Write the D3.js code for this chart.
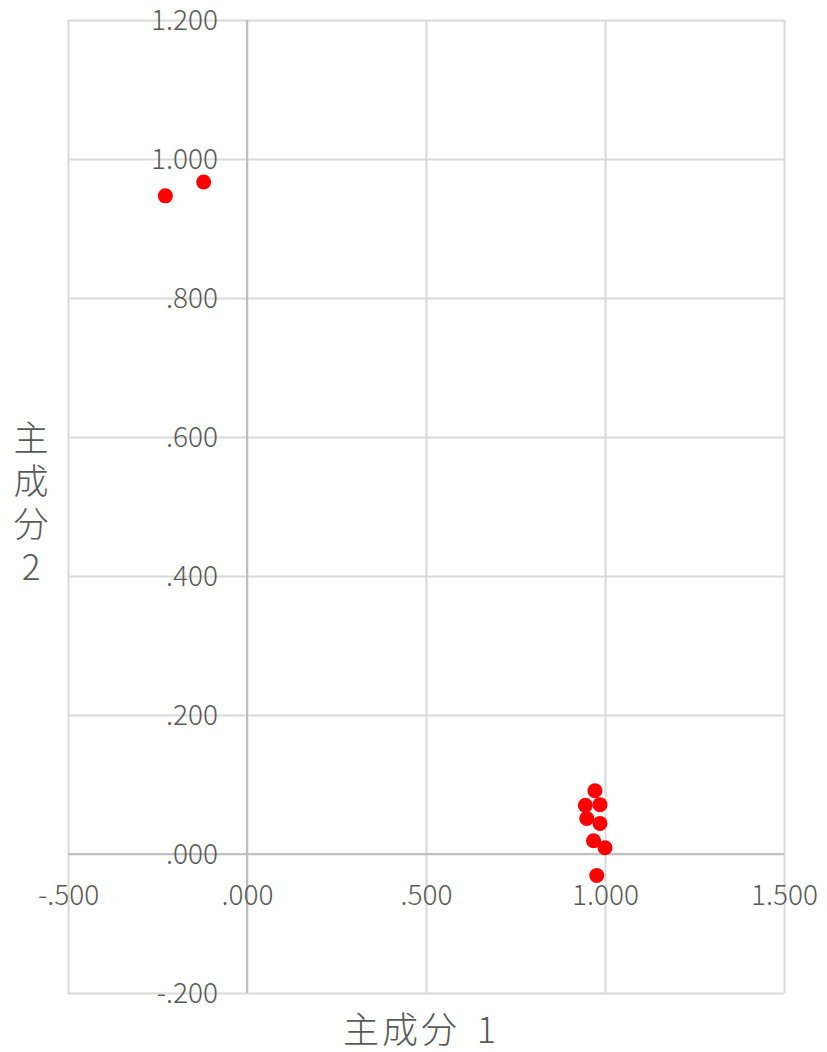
<!DOCTYPE html>
<html>
<head>
<meta charset="utf-8">
<script src="https://cdn.jsdelivr.net/npm/d3@7"></script>
<style>
  body { margin: 0; background: #fff; }
  text { font-family: "Noto Sans CJK JP", "Noto Sans", sans-serif; font-weight: 300; fill: #595959; }
</style>
</head>
<body>
<script>
// component loadings
const pc1 = [-0.228, -0.121, 0.972, 0.945, 0.986, 0.949, 0.986, 0.968, 1.000, 0.977];
const pc2 = [0.947, 0.967, 0.091, 0.070, 0.071, 0.051, 0.044, 0.019, 0.009, -0.031];

const xTicks = [-0.5, 0, 0.5, 1.0, 1.5];
const yTicks = [-0.2, 0, 0.2, 0.4, 0.6, 0.8, 1.0, 1.2];
const xTitle = "主成分 1";
const yTitle = "主成分2";

const width = 827, height = 1052;
const margin = { top: 20, right: 43, bottom: 59, left: 68 };

// Excel style labels: plain hyphen, no leading zero
const locale = d3.formatLocale({ decimal: ".", thousands: ",", grouping: [3], currency: ["", ""], minus: "-" });
const fmt = v => locale.format(".3f")(v).replace(/^(-?)0\./, "$1.");

const svg = d3.select("body").append("svg")
  .attr("width", width)
  .attr("height", height);

const x = d3.scaleLinear()
  .domain([-0.5, 1.5])
  .range([margin.left, width - margin.right]);

const y = d3.scaleLinear()
  .domain([-0.2, 1.2])
  .range([height - margin.bottom, margin.top]);

// gridlines
svg.append("g")
  .attr("transform", `translate(0,${y(-0.2)})`)
  .call(d3.axisBottom(x).tickValues(xTicks).tickSize(-(y(-0.2) - y(1.2))).tickFormat(""))
  .call(g => g.select(".domain").remove())
  .call(g => g.selectAll("line").attr("stroke", "#d9d9d9").attr("stroke-width", 2));

svg.append("g")
  .attr("transform", `translate(${x(-0.5)},0)`)
  .call(d3.axisLeft(y).tickValues(yTicks).tickSize(-(x(1.5) - x(-0.5))).tickFormat(""))
  .call(g => g.select(".domain").remove())
  .call(g => g.selectAll("line").attr("stroke", "#d9d9d9").attr("stroke-width", 2));

// axis lines crossing at zero
svg.append("line")
  .attr("x1", x(-0.5)).attr("x2", x(1.5))
  .attr("y1", y(0)).attr("y2", y(0))
  .attr("stroke", "#bfbfbf").attr("stroke-width", 2);
svg.append("line")
  .attr("x1", x(0)).attr("x2", x(0))
  .attr("y1", y(-0.2)).attr("y2", y(1.2))
  .attr("stroke", "#bfbfbf").attr("stroke-width", 2);

// tick labels
svg.append("g")
  .attr("transform", `translate(0,${y(0)})`)
  .call(d3.axisBottom(x).tickValues(xTicks).tickSize(0).tickFormat(fmt))
  .call(g => g.select(".domain").remove())
  .call(g => g.selectAll("text")
    .attr("y", 41).attr("dy", "0.35em")
    .style("font-size", "28px").attr("fill", "#595959"));

svg.append("g")
  .attr("transform", `translate(${x(0)},0)`)
  .call(d3.axisLeft(y).tickValues(yTicks).tickSize(0).tickFormat(fmt))
  .call(g => g.select(".domain").remove())
  .call(g => g.selectAll("text")
    .attr("x", -29).attr("dy", "0.35em")
    .style("font-size", "28px").attr("fill", "#595959"));

// points
svg.append("g")
  .selectAll("circle")
  .data(pc1.map((v, i) => [v, pc2[i]]))
  .join("circle")
  .attr("cx", d => x(d[0]))
  .attr("cy", d => y(d[1]))
  .attr("r", 7.5)
  .attr("fill", "#ff0000");

// axis titles
svg.append("text")
  .attr("x", 421).attr("y", 1030)
  .attr("text-anchor", "middle").attr("dy", "0.35em")
  .style("font-size", "36px")
  .style("letter-spacing", "3px")
  .style("word-spacing", "6px")
  .text(xTitle);

svg.append("text")
  .attr("x", 31).attr("y", 506)
  .attr("text-anchor", "middle")
  .style("writing-mode", "vertical-rl")
  .style("text-orientation", "upright")
  .style("letter-spacing", "8px")
  .style("font-size", "35px")
  .text(yTitle);
</script>
</body>
</html>
